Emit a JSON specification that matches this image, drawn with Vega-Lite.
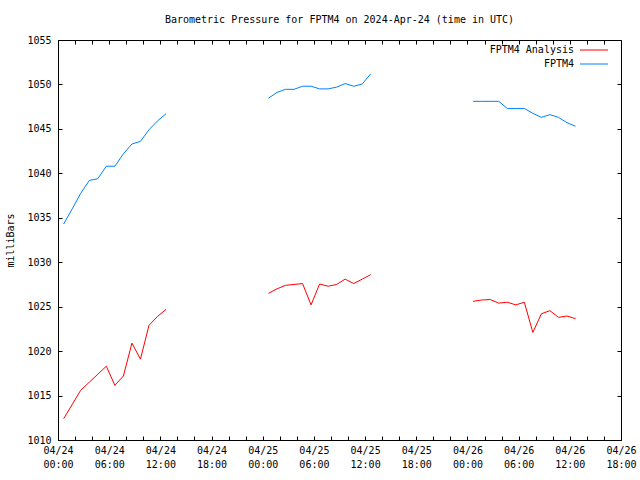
{
  "$schema": "https://vega.github.io/schema/vega-lite/v6.json",
  "width": 563,
  "height": 400,
  "autosize": "none",
  "padding": {"left": 58, "top": 40, "right": 19, "bottom": 40},
  "background": "white",
  "title": {"text": "Barometric Pressure for FPTM4 on 2024-Apr-24 (time in UTC)", "font": "DejaVu Sans Mono", "fontSize": 10, "fontWeight": "normal", "color": "black", "anchor": "middle", "offset": 10},
  "config": {
    "view": {"stroke": null},
    "axis": {"domainColor": "black", "domainWidth": 1, "tickColor": "black", "tickWidth": 1, "grid": false, "labelFont": "DejaVu Sans Mono", "labelFontSize": 10, "labelColor": "black", "titleFont": "DejaVu Sans Mono", "titleFontSize": 10, "titleFontWeight": "normal", "titleColor": "black"}
  },
  "data": {"values": [
    {"t": "2024-04-24T00:40:00Z", "p": 1034.3, "s": "FPTM4", "g": 1},
    {"t": "2024-04-24T01:40:00Z", "p": 1036.0, "s": "FPTM4", "g": 1},
    {"t": "2024-04-24T02:40:00Z", "p": 1037.75, "s": "FPTM4", "g": 1},
    {"t": "2024-04-24T03:40:00Z", "p": 1039.2, "s": "FPTM4", "g": 1},
    {"t": "2024-04-24T04:40:00Z", "p": 1039.4, "s": "FPTM4", "g": 1},
    {"t": "2024-04-24T05:40:00Z", "p": 1040.8, "s": "FPTM4", "g": 1},
    {"t": "2024-04-24T06:40:00Z", "p": 1040.8, "s": "FPTM4", "g": 1},
    {"t": "2024-04-24T07:40:00Z", "p": 1042.2, "s": "FPTM4", "g": 1},
    {"t": "2024-04-24T08:40:00Z", "p": 1043.3, "s": "FPTM4", "g": 1},
    {"t": "2024-04-24T09:40:00Z", "p": 1043.6, "s": "FPTM4", "g": 1},
    {"t": "2024-04-24T10:40:00Z", "p": 1044.9, "s": "FPTM4", "g": 1},
    {"t": "2024-04-24T11:40:00Z", "p": 1045.9, "s": "FPTM4", "g": 1},
    {"t": "2024-04-24T12:40:00Z", "p": 1046.7, "s": "FPTM4", "g": 1},
    {"t": "2024-04-25T00:40:00Z", "p": 1048.45, "s": "FPTM4", "g": 2},
    {"t": "2024-04-25T01:40:00Z", "p": 1049.1, "s": "FPTM4", "g": 2},
    {"t": "2024-04-25T02:40:00Z", "p": 1049.45, "s": "FPTM4", "g": 2},
    {"t": "2024-04-25T03:40:00Z", "p": 1049.45, "s": "FPTM4", "g": 2},
    {"t": "2024-04-25T04:40:00Z", "p": 1049.8, "s": "FPTM4", "g": 2},
    {"t": "2024-04-25T05:40:00Z", "p": 1049.8, "s": "FPTM4", "g": 2},
    {"t": "2024-04-25T06:40:00Z", "p": 1049.5, "s": "FPTM4", "g": 2},
    {"t": "2024-04-25T07:40:00Z", "p": 1049.5, "s": "FPTM4", "g": 2},
    {"t": "2024-04-25T08:40:00Z", "p": 1049.7, "s": "FPTM4", "g": 2},
    {"t": "2024-04-25T09:40:00Z", "p": 1050.1, "s": "FPTM4", "g": 2},
    {"t": "2024-04-25T10:40:00Z", "p": 1049.8, "s": "FPTM4", "g": 2},
    {"t": "2024-04-25T11:40:00Z", "p": 1050.05, "s": "FPTM4", "g": 2},
    {"t": "2024-04-25T12:40:00Z", "p": 1051.2, "s": "FPTM4", "g": 2},
    {"t": "2024-04-26T00:40:00Z", "p": 1048.1, "s": "FPTM4", "g": 3},
    {"t": "2024-04-26T01:40:00Z", "p": 1048.1, "s": "FPTM4", "g": 3},
    {"t": "2024-04-26T02:40:00Z", "p": 1048.1, "s": "FPTM4", "g": 3},
    {"t": "2024-04-26T03:40:00Z", "p": 1048.1, "s": "FPTM4", "g": 3},
    {"t": "2024-04-26T04:40:00Z", "p": 1047.3, "s": "FPTM4", "g": 3},
    {"t": "2024-04-26T05:40:00Z", "p": 1047.3, "s": "FPTM4", "g": 3},
    {"t": "2024-04-26T06:40:00Z", "p": 1047.3, "s": "FPTM4", "g": 3},
    {"t": "2024-04-26T07:40:00Z", "p": 1046.75, "s": "FPTM4", "g": 3},
    {"t": "2024-04-26T08:40:00Z", "p": 1046.3, "s": "FPTM4", "g": 3},
    {"t": "2024-04-26T09:40:00Z", "p": 1046.6, "s": "FPTM4", "g": 3},
    {"t": "2024-04-26T10:40:00Z", "p": 1046.3, "s": "FPTM4", "g": 3},
    {"t": "2024-04-26T11:40:00Z", "p": 1045.7, "s": "FPTM4", "g": 3},
    {"t": "2024-04-26T12:40:00Z", "p": 1045.3, "s": "FPTM4", "g": 3},
    {"t": "2024-04-24T00:40:00Z", "p": 1012.4, "s": "FPTM4 Analysis", "g": 4},
    {"t": "2024-04-24T01:40:00Z", "p": 1014.0, "s": "FPTM4 Analysis", "g": 4},
    {"t": "2024-04-24T02:40:00Z", "p": 1015.6, "s": "FPTM4 Analysis", "g": 4},
    {"t": "2024-04-24T03:40:00Z", "p": 1016.5, "s": "FPTM4 Analysis", "g": 4},
    {"t": "2024-04-24T04:40:00Z", "p": 1017.4, "s": "FPTM4 Analysis", "g": 4},
    {"t": "2024-04-24T05:40:00Z", "p": 1018.3, "s": "FPTM4 Analysis", "g": 4},
    {"t": "2024-04-24T06:40:00Z", "p": 1016.15, "s": "FPTM4 Analysis", "g": 4},
    {"t": "2024-04-24T07:40:00Z", "p": 1017.2, "s": "FPTM4 Analysis", "g": 4},
    {"t": "2024-04-24T08:40:00Z", "p": 1020.9, "s": "FPTM4 Analysis", "g": 4},
    {"t": "2024-04-24T09:40:00Z", "p": 1019.1, "s": "FPTM4 Analysis", "g": 4},
    {"t": "2024-04-24T10:40:00Z", "p": 1022.9, "s": "FPTM4 Analysis", "g": 4},
    {"t": "2024-04-24T11:40:00Z", "p": 1023.9, "s": "FPTM4 Analysis", "g": 4},
    {"t": "2024-04-24T12:40:00Z", "p": 1024.7, "s": "FPTM4 Analysis", "g": 4},
    {"t": "2024-04-25T00:40:00Z", "p": 1026.5, "s": "FPTM4 Analysis", "g": 5},
    {"t": "2024-04-25T01:40:00Z", "p": 1027.0, "s": "FPTM4 Analysis", "g": 5},
    {"t": "2024-04-25T02:40:00Z", "p": 1027.4, "s": "FPTM4 Analysis", "g": 5},
    {"t": "2024-04-25T03:40:00Z", "p": 1027.5, "s": "FPTM4 Analysis", "g": 5},
    {"t": "2024-04-25T04:40:00Z", "p": 1027.6, "s": "FPTM4 Analysis", "g": 5},
    {"t": "2024-04-25T05:40:00Z", "p": 1025.2, "s": "FPTM4 Analysis", "g": 5},
    {"t": "2024-04-25T06:40:00Z", "p": 1027.55, "s": "FPTM4 Analysis", "g": 5},
    {"t": "2024-04-25T07:40:00Z", "p": 1027.3, "s": "FPTM4 Analysis", "g": 5},
    {"t": "2024-04-25T08:40:00Z", "p": 1027.5, "s": "FPTM4 Analysis", "g": 5},
    {"t": "2024-04-25T09:40:00Z", "p": 1028.1, "s": "FPTM4 Analysis", "g": 5},
    {"t": "2024-04-25T10:40:00Z", "p": 1027.6, "s": "FPTM4 Analysis", "g": 5},
    {"t": "2024-04-25T11:40:00Z", "p": 1028.1, "s": "FPTM4 Analysis", "g": 5},
    {"t": "2024-04-25T12:40:00Z", "p": 1028.6, "s": "FPTM4 Analysis", "g": 5},
    {"t": "2024-04-26T00:40:00Z", "p": 1025.6, "s": "FPTM4 Analysis", "g": 6},
    {"t": "2024-04-26T01:40:00Z", "p": 1025.75, "s": "FPTM4 Analysis", "g": 6},
    {"t": "2024-04-26T02:40:00Z", "p": 1025.8, "s": "FPTM4 Analysis", "g": 6},
    {"t": "2024-04-26T03:40:00Z", "p": 1025.4, "s": "FPTM4 Analysis", "g": 6},
    {"t": "2024-04-26T04:40:00Z", "p": 1025.5, "s": "FPTM4 Analysis", "g": 6},
    {"t": "2024-04-26T05:40:00Z", "p": 1025.2, "s": "FPTM4 Analysis", "g": 6},
    {"t": "2024-04-26T06:40:00Z", "p": 1025.5, "s": "FPTM4 Analysis", "g": 6},
    {"t": "2024-04-26T07:40:00Z", "p": 1022.1, "s": "FPTM4 Analysis", "g": 6},
    {"t": "2024-04-26T08:40:00Z", "p": 1024.2, "s": "FPTM4 Analysis", "g": 6},
    {"t": "2024-04-26T09:40:00Z", "p": 1024.55, "s": "FPTM4 Analysis", "g": 6},
    {"t": "2024-04-26T10:40:00Z", "p": 1023.8, "s": "FPTM4 Analysis", "g": 6},
    {"t": "2024-04-26T11:40:00Z", "p": 1023.95, "s": "FPTM4 Analysis", "g": 6},
    {"t": "2024-04-26T12:40:00Z", "p": 1023.65, "s": "FPTM4 Analysis", "g": 6}
  ]},
  "layer": [
    {
      "mark": {"type": "line", "strokeWidth": 1, "interpolate": "linear"},
      "encoding": {
        "x": {"field": "t", "type": "temporal",
          "scale": {"type": "utc", "domain": [1713916800000, 1714154400000]},
          "axis": {"orient": "bottom", "title": null, "values": [1713916800000, 1713924000000, 1713931200000, 1713938400000, 1713945600000, 1713952800000, 1713960000000, 1713967200000, 1713974400000, 1713981600000, 1713988800000, 1713996000000, 1714003200000, 1714010400000, 1714017600000, 1714024800000, 1714032000000, 1714039200000, 1714046400000, 1714053600000, 1714060800000, 1714068000000, 1714075200000, 1714082400000, 1714089600000, 1714096800000, 1714104000000, 1714111200000, 1714118400000, 1714125600000, 1714132800000, 1714140000000, 1714147200000, 1714154400000], "tickSize": -4, "labelPadding": 9, "labelOverlap": false, "labelFlush": false, "labelLineHeight": 14, "labelAlign": "center", "labelBaseline": "top",
            "labelExpr": "utchours(datum.value) % 6 == 0 ? [utcFormat(datum.value, '%m/%d'), utcFormat(datum.value, '%H:%M')] : ''"}},
        "y": {"field": "p", "type": "quantitative",
          "scale": {"domain": [1010, 1055], "nice": false, "zero": false},
          "axis": {"orient": "left", "values": [1010, 1015, 1020, 1025, 1030, 1035, 1040, 1045, 1050, 1055], "tickSize": -4, "labelPadding": 11, "format": "d", "labelOverlap": false, "labelFlush": false,
            "title": "milliBars", "titleX": -48, "titleY": 200, "titleAngle": -90, "titleAlign": "center", "titleBaseline": "middle"}},
        "color": {"field": "s", "type": "nominal",
          "scale": {"domain": ["FPTM4 Analysis", "FPTM4"], "range": ["#ff0000", "#0080ff"]},
          "legend": {"orient": "none", "legendX": 517, "legendY": 5, "title": null, "direction": "vertical", "symbolType": "M0,0H9.33", "symbolSize": 36, "symbolStrokeWidth": 1, "labelAlign": "right", "labelOffset": -11, "labelFont": "DejaVu Sans Mono", "labelFontSize": 10, "labelColor": "black", "rowPadding": 4, "padding": 0}},
        "detail": {"field": "g", "type": "nominal"}
      }
    },
    {
      "mark": {"type": "line", "opacity": 0},
      "encoding": {
        "x": {"field": "t", "type": "temporal",
          "axis": {"orient": "top", "title": null, "labels": false, "values": [1713916800000, 1713924000000, 1713931200000, 1713938400000, 1713945600000, 1713952800000, 1713960000000, 1713967200000, 1713974400000, 1713981600000, 1713988800000, 1713996000000, 1714003200000, 1714010400000, 1714017600000, 1714024800000, 1714032000000, 1714039200000, 1714046400000, 1714053600000, 1714060800000, 1714068000000, 1714075200000, 1714082400000, 1714089600000, 1714096800000, 1714104000000, 1714111200000, 1714118400000, 1714125600000, 1714132800000, 1714140000000, 1714147200000, 1714154400000], "tickSize": -4}},
        "y": {"field": "p", "type": "quantitative",
          "axis": {"orient": "right", "title": null, "labels": false, "values": [1010, 1015, 1020, 1025, 1030, 1035, 1040, 1045, 1050, 1055], "tickSize": -4}},
        "detail": {"field": "g", "type": "nominal"}
      }
    }
  ],
  "resolve": {"axis": {"x": "independent", "y": "independent"}}
}
